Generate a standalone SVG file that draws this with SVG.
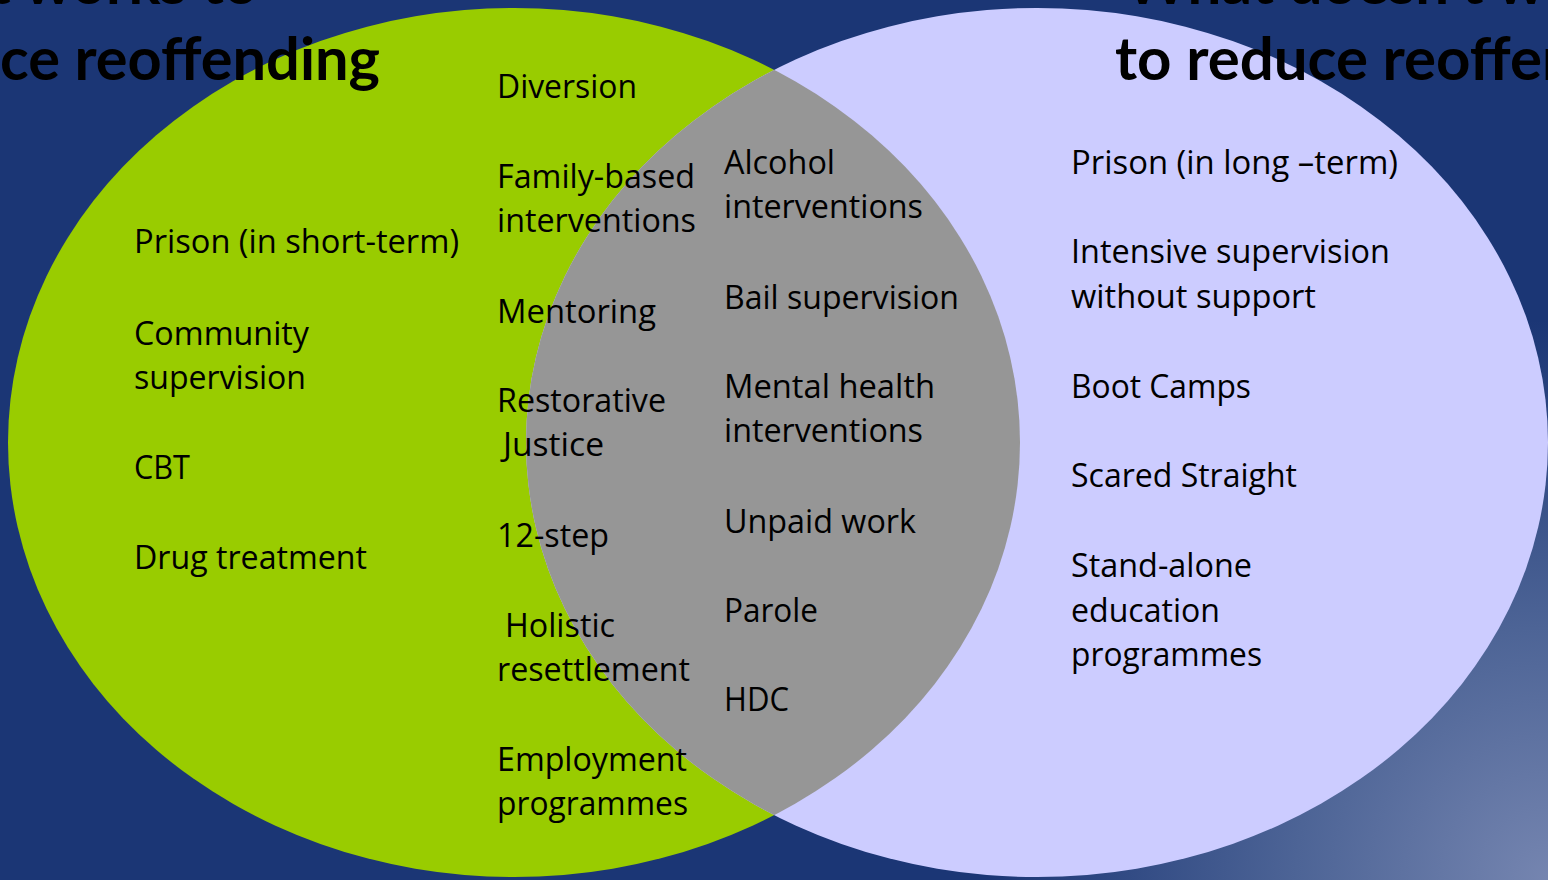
<svg xmlns="http://www.w3.org/2000/svg" width="1548" height="880" viewBox="0 0 1548 880">
<style>
.t{font-family:"Open Sans","Liberation Sans",sans-serif;font-size:32px;fill:#000}
.h{font-family:Lato,"Liberation Sans",sans-serif;font-weight:bold;font-size:60px;fill:#000}
</style>
<defs>
<radialGradient id="bg" gradientUnits="userSpaceOnUse" cx="1548" cy="880" r="560">
<stop offset="0" stop-color="#7585b0"/>
<stop offset="0.45" stop-color="#4d6496"/>
<stop offset="1" stop-color="#1b3675"/>
</radialGradient>
<clipPath id="gclip"><ellipse cx="514" cy="442.5" rx="506" ry="434.5"/></clipPath>
</defs>
<rect x="0" y="0" width="1548" height="880" fill="#1b3675"/>
<rect x="0" y="0" width="1548" height="880" fill="url(#bg)"/>
<g id="circle-works">
<ellipse cx="514" cy="442.5" rx="506" ry="434.5" fill="#99cc00"/>
</g>
<g id="circle-doesnt">
<ellipse cx="1037" cy="442.5" rx="511" ry="434.5" fill="#ccccff"/>
</g>
<g id="overlap">
<ellipse cx="1037" cy="442.5" rx="511" ry="434.5" fill="#969696" clip-path="url(#gclip)"/>
</g>
<g id="titles">
<text class="h" x="258" y="4" text-anchor="end">t works to</text>
<text class="h" x="0" y="80" textLength="380" lengthAdjust="spacingAndGlyphs">ce reoffending</text>
<text class="h" x="1125" y="4">What doesn't w</text>
<text class="h" x="1115" y="80">to reduce reoffen</text>
</g>
<g id="works-items">
<text class="t" x="134" y="253" textLength="325" lengthAdjust="spacingAndGlyphs">Prison (in short-term)</text>
<text class="t" x="134" y="345" textLength="175" lengthAdjust="spacingAndGlyphs">Community</text>
<text class="t" x="134" y="389" textLength="172" lengthAdjust="spacingAndGlyphs">supervision</text>
<text class="t" x="134" y="479" textLength="56" lengthAdjust="spacingAndGlyphs">CBT</text>
<text class="t" x="134" y="569" textLength="233" lengthAdjust="spacingAndGlyphs">Drug treatment</text>
</g>
<g id="works-inner-items">
<text class="t" x="497" y="98" textLength="140" lengthAdjust="spacingAndGlyphs">Diversion</text>
<text class="t" x="497" y="188" textLength="198" lengthAdjust="spacingAndGlyphs">Family-based</text>
<text class="t" x="497" y="232" textLength="199" lengthAdjust="spacingAndGlyphs">interventions</text>
<text class="t" x="497" y="323" textLength="159" lengthAdjust="spacingAndGlyphs">Mentoring</text>
<text class="t" x="497" y="412" textLength="169" lengthAdjust="spacingAndGlyphs">Restorative</text>
<text class="t" x="503" y="456" textLength="101" lengthAdjust="spacingAndGlyphs">Justice</text>
<text class="t" x="497" y="547" textLength="112" lengthAdjust="spacingAndGlyphs">12-step</text>
<text class="t" x="505" y="637" textLength="110" lengthAdjust="spacingAndGlyphs">Holistic</text>
<text class="t" x="497" y="681" textLength="193" lengthAdjust="spacingAndGlyphs">resettlement</text>
<text class="t" x="497" y="771" textLength="190" lengthAdjust="spacingAndGlyphs">Employment</text>
<text class="t" x="497" y="815" textLength="191" lengthAdjust="spacingAndGlyphs">programmes</text>
</g>
<g id="overlap-items">
<text class="t" x="724" y="174" textLength="111" lengthAdjust="spacingAndGlyphs">Alcohol</text>
<text class="t" x="724" y="218" textLength="199" lengthAdjust="spacingAndGlyphs">interventions</text>
<text class="t" x="724" y="309" textLength="235" lengthAdjust="spacingAndGlyphs">Bail supervision</text>
<text class="t" x="724" y="398" textLength="211" lengthAdjust="spacingAndGlyphs">Mental health</text>
<text class="t" x="724" y="442" textLength="199" lengthAdjust="spacingAndGlyphs">interventions</text>
<text class="t" x="724" y="533" textLength="192" lengthAdjust="spacingAndGlyphs">Unpaid work</text>
<text class="t" x="724" y="622" textLength="94" lengthAdjust="spacingAndGlyphs">Parole</text>
<text class="t" x="724" y="711" textLength="65" lengthAdjust="spacingAndGlyphs">HDC</text>
</g>
<g id="doesnt-items">
<text class="t" x="1071" y="174" textLength="327" lengthAdjust="spacingAndGlyphs">Prison (in long –term)</text>
<text class="t" x="1071" y="263" textLength="319" lengthAdjust="spacingAndGlyphs">Intensive supervision</text>
<text class="t" x="1071" y="308" textLength="245" lengthAdjust="spacingAndGlyphs">without support</text>
<text class="t" x="1071" y="398" textLength="180" lengthAdjust="spacingAndGlyphs">Boot Camps</text>
<text class="t" x="1071" y="487" textLength="226" lengthAdjust="spacingAndGlyphs">Scared Straight</text>
<text class="t" x="1071" y="577" textLength="181" lengthAdjust="spacingAndGlyphs">Stand-alone</text>
<text class="t" x="1071" y="622" textLength="149" lengthAdjust="spacingAndGlyphs">education</text>
<text class="t" x="1071" y="666" textLength="191" lengthAdjust="spacingAndGlyphs">programmes</text>
</g>
</svg>
